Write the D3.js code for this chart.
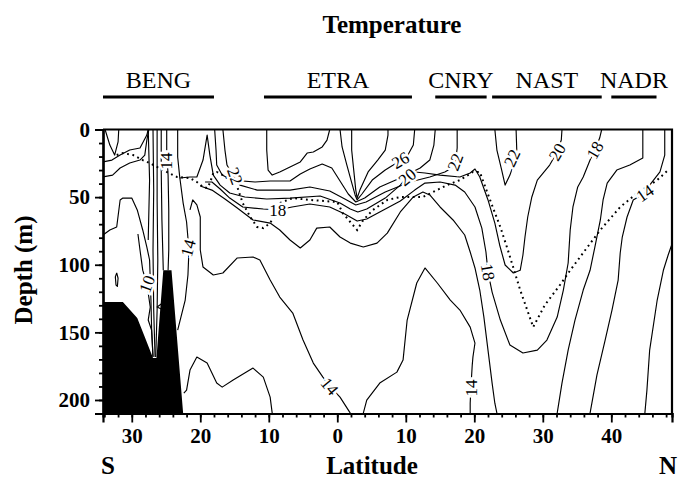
<!DOCTYPE html>
<html>
<head>
<meta charset="utf-8">
<script src="https://cdn.jsdelivr.net/npm/d3@7"></script>
<style>
body { margin: 0; background: #fff; }
</style>
</head>
<body>
<script>
var iso28 = [[2.1,0],[2.1,15.2],[2.4,30],[2.7,44.8],[2.9,50.7],[3.3,44.8],[4.5,31.4],[5.9,22.6],[7.0,15.2],[7.4,4.1],[7.4,0]];
var iso26 = [[0.4,0],[0.7,12.9],[1.4,26.3],[2.0,37.4],[2.6,48.4],[2.9,52.1],[3.6,47.7],[5.1,37.4],[7.0,30],[8.4,25.5],[10.3,18.9],[11.1,11.5],[11.3,0]];
var iso26west = [[-10.3,0],[-10.3,15.2],[-10.1,30],[-9.5,33.7],[-8.4,31.4],[-6.9,27.7],[-5.4,24],[-4.4,17.4],[-3.5,16.6],[-2.2,12.9],[-1.5,7.8],[-1.1,0]];
var iso24 = [[-17.9,0],[-17.7,15.2],[-17.6,26.3],[-16.8,33.7],[-15.4,37.4],[-12.0,38.8],[-9.8,38.1],[-6.9,38.1],[-5.4,32.9],[-4.0,29.2],[-2.2,25.5],[-0.8,28.5],[0.4,38.1],[1.6,47.7],[2.7,53.6],[4.0,50.7],[6.2,42.5],[9.2,35.9],[12.1,28.5],[13.5,22.6],[14.1,11.5],[14.3,0]];
var iso22 = [[-16.7,0],[-16.4,15.2],[-16.1,26.3],[-15.2,34.4],[-14.2,41.1],[-11.7,44.8],[-6.9,44.8],[-4.0,42.5],[-1.1,45.5],[1.1,51.4],[2.7,55.8],[4.2,53.6],[7.0,46.2],[10.6,38.8],[13.5,35.1],[15.7,31.4],[16.7,28.5],[17.3,22.6],[17.5,13.7],[17.5,0]];
var iso22north = [[23.0,0],[23.3,15.2],[24.0,30],[24.5,41.1],[25.2,33.7],[25.7,26.3],[26.2,15.2],[26.1,0]];
var iso20 = [[-23.0,35.9],[-21.5,35.1],[-20.5,35.1],[-19.6,22.6],[-19.0,4.1],[-18.6,18.9],[-18.1,33.7],[-17.1,41.1],[-15.7,47.0],[-13.5,49.9],[-10.3,51.4],[-6.9,50.7],[-2.5,49.2],[0.4,54.4],[1.9,58.8],[3.0,61.0],[4.3,58.8],[7.0,50.7],[9.2,41.1],[10.2,35.1],[11.3,31.4],[12.8,32.2],[15.0,33.7],[17.9,35.1],[19.4,32.2],[20.1,29.2],[20.8,35.1],[22.0,52.1],[23.0,69.2],[23.7,85.4],[24.5,100.2],[25.7,106.1],[26.7,104.1],[27.1,92.8],[27.4,79.5],[27.8,64.7],[28.4,49.9],[29.2,37.4],[31.0,26.3],[32.1,16.6],[32.7,7.8],[32.8,0]];
var iso18 = [[-19.3,38.8],[-18.3,38.8],[-17.1,44.0],[-15.7,50.7],[-13.8,57.3],[-10.8,58.8],[-8.7,59.5],[-6.6,57.3],[-4.0,55.1],[-1.1,57.3],[1.1,62.5],[2.9,67.7],[4.3,66.2],[6.2,61.0],[9.2,52.9],[11.3,44.8],[12.8,39.6],[15.0,38.8],[17.2,41.1],[18.6,46.2],[20.1,57.3],[21.1,72.9],[21.7,90.6],[22.0,105.4],[22.6,120.2],[23.8,140.9],[25.2,159.4],[27.1,165.3],[29.2,163.1],[30.6,155.7],[32.1,138.7],[33.0,118.7],[33.7,98.7],[34.0,74.3],[34.4,57.3],[35.1,42.5],[35.9,35.1],[36.9,22.6],[37.6,15.2],[38.3,6.3],[38.6,0]];
var iso16 = [[-20.0,41.8],[-18.3,44.8],[-16.4,51.4],[-14.6,58.1],[-12.3,66.9],[-9.8,69.2],[-8.4,74.3],[-6.9,81.7],[-5.4,87.6],[-4.0,81.7],[-3.0,72.9],[-1.1,72.1],[0.4,79.5],[1.9,84.0],[3.8,86.9],[5.8,84.0],[7.3,76.6],[9.2,61.0],[11.1,49.9],[12.5,46.2],[13.5,48.4],[15.0,57.3],[16.9,66.9],[18.6,78.0],[19.4,90.6],[20.1,102.4],[20.8,118.7],[21.4,138.7],[22.0,163.1],[22.6,187.5],[23.0,202.4],[23.3,209.7]];
var iso16north = [[44.6,0],[44.6,21.1],[42.7,26.3],[40.8,30],[39.4,39.6],[38.8,52.1],[38.4,66.9],[37.6,86.9],[36.9,104.1],[35.9,118.7],[34.7,140.9],[33.7,163.1],[32.8,187.5],[32.1,209.7]];
var iso14 = [[-21.5,59.5],[-21.1,52.1],[-20.5,55.8],[-20.0,64.7],[-20.0,74.3],[-20.0,89.1],[-19.6,101.7],[-18.1,107.6],[-16.7,106.1],[-14.6,95],[-12.3,94.3],[-11.3,96.5],[-9.8,111.3],[-8.4,123.9],[-6.5,135.7],[-5.0,155.7],[-3.5,172.7],[-2.1,183.1],[-1.1,189.8],[0.4,197.9],[1.9,209.7]];
var iso14shelf = [[-23.3,0],[-23.3,20.3],[-23.0,35.1],[-22.5,54.4],[-22.0,68.4],[-21.8,80.2],[-21.7,95],[-21.8,107.6],[-22.2,126.1],[-23.3,148.4]];
var iso14coast = [[-24.9,0],[-24.9,15.2],[-24.7,33.7],[-24.6,59.5],[-24.6,89.1],[-24.7,104]];
var iso14dome = [[3.8,209.7],[4.3,200.1],[6.2,187.5],[8.7,179.4],[9.6,170.5],[10.2,140.9],[11.6,113.5],[12.8,102.4],[14.6,113.5],[16.5,126.1],[17.9,133.5],[19.4,146.1],[20.1,157.9],[19.8,168.3],[19.7,174.2],[19.5,191.2],[19.4,202.4],[19.4,209.7]];
var iso14north = [[47.8,0],[47.8,18.9],[47.1,31.4],[45.6,41.1],[44.9,47],[43.2,52.1],[42.3,64.7],[41.6,79.5],[41.3,91.3],[41.0,111.3],[40.1,133.5],[39.1,155.7],[37.9,181.6],[36.9,209.7]];
var iso12 = [[-22.4,194.9],[-22.0,192.7],[-21.5,177.9],[-20.5,168.3],[-19.0,172.7],[-17.6,187.5],[-16.8,190.5],[-15.2,185.3],[-12.3,176.4],[-10.8,183.1],[-9.8,197.9],[-9.5,209.7]];
var iso12south = [[-34.2,78],[-33.2,74.3],[-32.2,72.1],[-31.7,52.1],[-31.3,50.7],[-30.0,50.7],[-29.2,59.5],[-28.4,74.3],[-27.8,86.9],[-27.4,96.5],[-27.2,126],[-27.1,148],[-26.9,168]];
var iso12north = [[48.9,84],[48.3,92.8],[47.6,104.1],[46.7,126.1],[45.6,163.1],[45.2,192.7],[44.9,209.7]];
var iso10 = [[-29.1,77.3],[-28.8,89.1],[-28.4,104],[-28.1,109.1],[-27.6,120.9],[-27.3,131.3],[-27.6,140.9],[-27.1,148.4],[-26.9,168.3]];
var isoPatch = [[-32.2,106],[-32.0,110],[-32.1,116],[-32.3,115],[-32.4,109],[-32.2,106]];
var isoNotch = [[-25.7,129],[-26.3,131.3],[-25.7,132.8]];
var isoSurfV = [[-33.9,0],[-33.2,11.5],[-32.5,18.9],[-32.0,9.2],[-31.9,0]];
var isoSurfA = [[-34.2,24],[-32.9,22.6],[-31.7,18.9],[-30.3,15.2],[-28.8,13.7],[-27.8,4.1],[-27.6,0]];
var isoSurfB = [[-34.2,35],[-32.8,33.7],[-31.7,28.5],[-30.3,24.8],[-28.8,22.6],[-28.1,18.9],[-27.8,7.8],[-27.5,0]];
var front1 = [[-27.6,0],[-27.4,37.4],[-27.6,81.7]];
var front2 = [[-26.9,0],[-26.8,44.8],[-26.9,89.1],[-26.8,133.5],[-26.6,168.3]];
var front3 = [[-26.3,0],[-26.3,52.1],[-26.2,96.5],[-26.3,133.5],[-26.5,168.3]];
var front4 = [[-25.7,0],[-25.7,30],[-25.6,66.9],[-25.4,104]];

// mixed layer depth (dotted)
var mldLat = [-32.2,-31.3,-29.8,-28.4,-27.4,-26.3,-24.9,-23.4,-21.5,-20.5,-19.6,-19.0,-18.6,-18.1,-17.6,-16.7,-15.7,-14.6,-13.8,-12.7,-11.7,-10.8,-9.8,-9.1,-8.4,-6.5,-4.0,0,0.8,1.9,2.9,3.8,5.2,7.3,9.2,12.5,14.0,16.0,17.9,19.8,20.8,22.3,23.8,24.9,26.7,28.6,30.3,32.5,34.0,36.2,38.4,41.3,43.8,46.7,48.3];
var mldDepth = [18.9,17.4,18.9,22.6,24.8,27.7,31.4,35.1,35.9,38.8,42.5,43.3,39.6,32.2,31.4,33.7,37.4,42.5,54.4,64.7,72.1,72.9,69.2,63.2,54.4,50.7,52.1,53.6,61.8,68.4,74.3,66.9,59.5,52.1,49.9,49.9,46.2,41.1,37.4,31.4,31.4,52.1,72.1,89.1,118.7,146.1,129.8,115,104.1,89.1,74.3,57.3,47,37.4,30];

// sea floor
var floorLat = [-34.2,-31.3,-29.2,-28.1,-26.9,-26.4,-25.4,-24.2,-22.5,-34.2];
var floorDepth = [127.6,127.6,139.4,153.5,169,169,104.1,104.1,210,210];

// contour labels
var labelText = ["14","22","18","14","10","26","20","22","14","14","18","22","20","18","14"];
var labelLat = [-25.0,-14.9,-8.7,-21.8,-27.8,9.2,10.2,17.2,-1.1,19.5,22.0,25.5,32.1,37.6,44.9];
var labelDepth = [23.3,34.4,59.5,87.6,114.3,22.6,35.1,24,189.8,191.2,105.4,21.1,16.6,15.2,47];
var labelAngle = [-90,70,0,-75,-70,-30,-40,-70,50,-90,80,-65,-60,-60,-35];

// provinces
var provName = ["BENG","ETRA","CNRY","NAST","NADR"];
var provFrom = [-34.2,-10.7,14.3,22.6,40.0];
var provTo = [-18.0,10.9,21.8,38.6,46.6];

var latTicks = [-30,-20,-10,0,10,20,30,40];
var depthTicks = [0,50,100,150,200];

var isolines = [iso28, iso26, iso26west, iso24, iso22, iso22north, iso20, iso18, iso16, iso16north,
  iso14, iso14shelf, iso14coast, iso14dome, iso14north, iso12, iso12south, iso12north, iso10,
  isoPatch, isoNotch, isoSurfV, isoSurfA, isoSurfB, front1, front2, front3, front4];

var width = 681, height = 493;
var plotL = 103, plotR = 672, plotT = 129.5, plotB = 413.5;

var x = d3.scaleLinear().domain([-34.2, 48.86]).range([plotL, plotR]);
var y = d3.scaleLinear().domain([0, 210]).range([plotT, plotB]);

var svg = d3.select("body").append("svg")
  .attr("width", width).attr("height", height)
  .style("display", "block")
  .style("font-family", "'Liberation Serif', 'Times New Roman', serif");

svg.append("defs").append("clipPath").attr("id", "plot")
  .append("rect").attr("x", plotL).attr("y", plotT)
  .attr("width", plotR - plotL).attr("height", plotB - plotT);

var plot = svg.append("g").attr("clip-path", "url(#plot)");

var line = d3.line()
  .x(function(d){ return x(d[0]); })
  .y(function(d){ return y(d[1]); });

plot.selectAll("path.iso").data(isolines).enter()
  .append("path")
  .attr("class", "iso")
  .attr("d", line)
  .attr("fill", "none")
  .attr("stroke", "#000")
  .attr("stroke-width", 1.15)
  .attr("stroke-linejoin", "round");

plot.append("path")
  .attr("d", line(mldLat.map(function(d, i){ return [d, mldDepth[i]]; })))
  .attr("fill", "none")
  .attr("stroke", "#000")
  .attr("stroke-width", 2)
  .attr("stroke-dasharray", "1.8,3.6");

plot.append("path")
  .attr("d", line(floorLat.map(function(d, i){ return [d, floorDepth[i]]; })) + "Z")
  .attr("fill", "#000");

// contour labels, white halo breaks the line under them
plot.selectAll("text.lab").data(labelText).enter()
  .append("text")
  .attr("class", "lab")
  .attr("transform", function(d, i){
    return "translate(" + x(labelLat[i]) + "," + y(labelDepth[i]) + ") rotate(" + labelAngle[i] + ")";
  })
  .attr("text-anchor", "middle")
  .attr("dy", "0.35em")
  .attr("font-size", "17px")
  .attr("stroke", "#fff")
  .attr("stroke-width", 5)
  .attr("paint-order", "stroke")
  .attr("fill", "#000")
  .text(function(d){ return d; });

// axes
svg.append("g").attr("transform", "translate(" + plotL + ",0)")
  .call(d3.axisLeft(y).tickValues(depthTicks).tickSize(8).tickPadding(5));
svg.append("g").attr("transform", "translate(" + plotL + ",0)")
  .call(d3.axisLeft(y).tickValues(d3.range(0, 211, 10)).tickSize(4).tickFormat(""));
svg.append("g").attr("transform", "translate(0," + plotB + ")")
  .call(d3.axisBottom(x).tickValues(latTicks).tickSize(9).tickPadding(6)
    .tickFormat(function(d){ return Math.abs(d); }));
svg.append("g").attr("transform", "translate(0," + plotB + ")")
  .call(d3.axisBottom(x).tickValues(d3.range(-34, 49, 2)).tickSize(4).tickFormat(""));

svg.selectAll(".domain").attr("stroke-width", 2.2);
svg.selectAll(".tick line").attr("stroke-width", 1.8);
svg.selectAll(".tick text")
  .attr("font-family", "'Liberation Serif', serif")
  .attr("font-weight", "bold")
  .attr("font-size", "21px");

svg.append("path")
  .attr("d", "M" + plotL + "," + plotT + "H" + plotR + "V" + plotB)
  .attr("fill", "none").attr("stroke", "#000").attr("stroke-width", 2.2);

// titles
svg.append("text").attr("x", 392).attr("y", 33)
  .attr("text-anchor", "middle").attr("font-weight", "bold").attr("font-size", "25px")
  .text("Temperature");

svg.append("text").attr("x", 372).attr("y", 474)
  .attr("text-anchor", "middle").attr("font-weight", "bold").attr("font-size", "25px")
  .text("Latitude");
svg.append("text").attr("x", 108).attr("y", 474)
  .attr("text-anchor", "middle").attr("font-weight", "bold").attr("font-size", "25px")
  .text("S");
svg.append("text").attr("x", 668).attr("y", 474)
  .attr("text-anchor", "middle").attr("font-weight", "bold").attr("font-size", "25px")
  .text("N");

svg.append("text")
  .attr("transform", "translate(32,270) rotate(-90)")
  .attr("text-anchor", "middle").attr("font-weight", "bold").attr("font-size", "25px")
  .text("Depth (m)");

svg.selectAll("text.prov").data(provName).enter()
  .append("text").attr("class", "prov")
  .attr("x", function(d, i){ return x((provFrom[i] + provTo[i]) / 2); })
  .attr("y", 88)
  .attr("text-anchor", "middle")
  .attr("font-size", "24px")
  .text(function(d){ return d; });

svg.selectAll("line.prov").data(provName).enter()
  .append("line").attr("class", "prov")
  .attr("x1", function(d, i){ return x(provFrom[i]); })
  .attr("x2", function(d, i){ return x(provTo[i]); })
  .attr("y1", 97).attr("y2", 97)
  .attr("stroke", "#000").attr("stroke-width", 3);
</script>
</body>
</html>
